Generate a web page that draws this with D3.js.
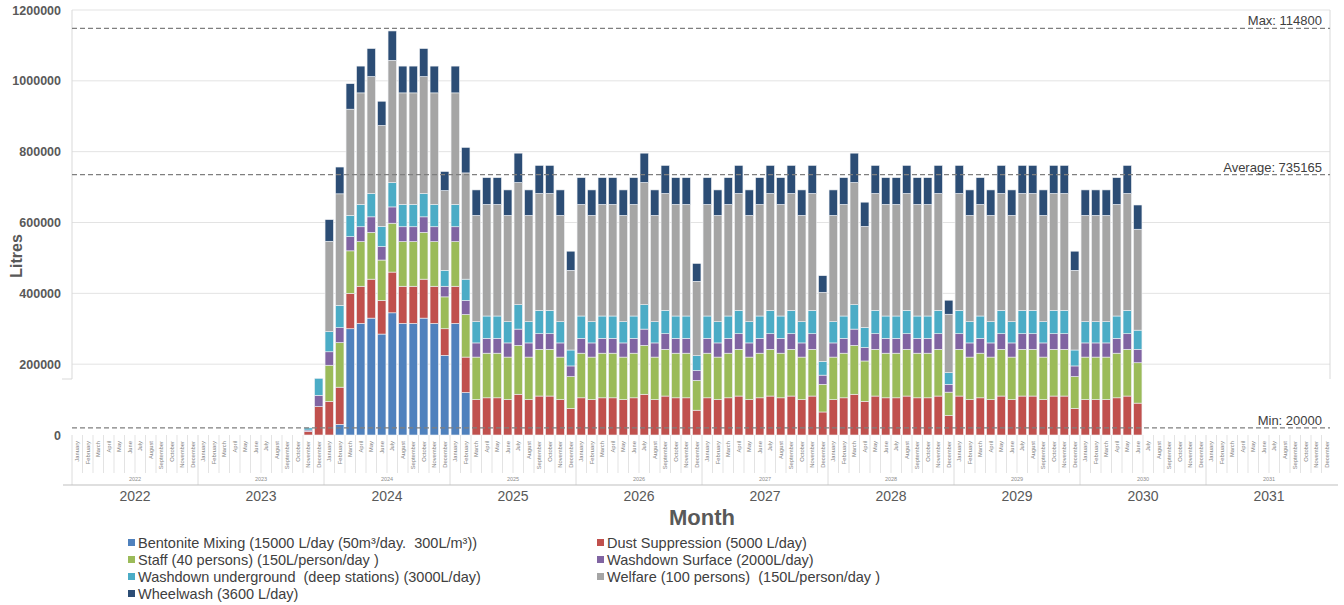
<!DOCTYPE html>
<html>
<head>
<meta charset="utf-8">
<script src="https://cdn.jsdelivr.net/npm/d3@7"></script>
<style>
  body { margin: 0; background: #fff; }
  svg { font-family: "Liberation Sans", Arial, sans-serif; }
</style>
</head>
<body>
<div id="chart"></div>
<script>
const monthNames = ["January", "February", "March", "April", "May", "June", "July",
  "August", "September", "October", "November", "December"];
const years = [2022, 2023, 2024, 2025, 2026, 2027, 2028, 2029, 2030, 2031];
const yTicks = [0, 200000, 400000, 600000, 800000, 1000000, 1200000];

// series values run monthly from November 2023 to June 2030
const dataStartYear = 2023, dataStartMonth = 10;

const seriesNames = [
  "Bentonite Mixing (15000 L/day (50m³/day.  300L/m³))",
  "Dust Suppression (5000 L/day)",
  "Staff (40 persons) (150L/person/day )",
  "Washdown Surface (2000L/day)",
  "Washdown underground  (deep stations) (3000L/day)",
  "Welfare (100 persons)  (150L/person/day )",
  "Wheelwash (3600 L/day)"
];
const seriesColors = ["#4F81BD", "#C0504D", "#9BBB59", "#8064A2", "#4BACC6", "#A5A5A5", "#2C4D75"];

const bentonite = [
  0, 0,
  0, 30000, 300000, 315000, 330000, 285000, 345000, 315000, 315000, 330000, 315000, 225000,
  315000, 120000, 0, 0, 0, 0, 0, 0, 0, 0, 0, 0,
  0, 0, 0, 0, 0, 0, 0, 0, 0, 0, 0, 0,
  0, 0, 0, 0, 0, 0, 0, 0, 0, 0, 0, 0,
  0, 0, 0, 0, 0, 0, 0, 0, 0, 0, 0, 0,
  0, 0, 0, 0, 0, 0, 0, 0, 0, 0, 0, 0,
  0, 0, 0, 0, 0, 0
];
const dust = [
  10000, 80000,
  95000, 105000, 100000, 105000, 110000, 95000, 115000, 105000, 105000, 110000, 105000, 75000,
  105000, 100000, 100000, 105000, 105000, 100000, 115000, 100000, 110000, 110000, 100000, 75000,
  105000, 100000, 105000, 105000, 100000, 105000, 115000, 100000, 110000, 105000, 105000, 70000,
  105000, 100000, 105000, 110000, 100000, 105000, 110000, 105000, 110000, 100000, 110000, 65000,
  100000, 105000, 115000, 95000, 110000, 105000, 105000, 110000, 105000, 105000, 110000, 55000,
  110000, 100000, 105000, 100000, 110000, 100000, 110000, 110000, 100000, 110000, 110000, 75000,
  100000, 100000, 100000, 105000, 110000, 90000
];
const staff = [
  0, 0,
  102000, 126000, 120000, 126000, 132000, 114000, 138000, 126000, 126000, 132000, 126000, 90000,
  126000, 120000, 120000, 126000, 126000, 120000, 138000, 120000, 132000, 132000, 120000, 90000,
  126000, 120000, 126000, 126000, 120000, 126000, 138000, 120000, 132000, 126000, 126000, 84000,
  126000, 120000, 126000, 132000, 120000, 126000, 132000, 126000, 132000, 120000, 132000, 78000,
  120000, 126000, 138000, 114000, 132000, 126000, 126000, 132000, 126000, 126000, 132000, 66000,
  132000, 120000, 126000, 120000, 132000, 120000, 132000, 132000, 120000, 132000, 132000, 90000,
  120000, 120000, 120000, 126000, 132000, 114000
];
const washSurface = [
  4000, 32000,
  38000, 42000, 40000, 42000, 44000, 38000, 46000, 42000, 42000, 44000, 42000, 30000,
  42000, 40000, 40000, 42000, 42000, 40000, 46000, 40000, 44000, 44000, 40000, 30000,
  42000, 40000, 42000, 42000, 40000, 42000, 46000, 40000, 44000, 42000, 42000, 28000,
  42000, 40000, 42000, 44000, 40000, 42000, 44000, 42000, 44000, 40000, 44000, 26000,
  40000, 42000, 46000, 38000, 44000, 42000, 42000, 44000, 42000, 42000, 44000, 22000,
  44000, 40000, 42000, 40000, 44000, 40000, 44000, 44000, 40000, 44000, 44000, 30000,
  40000, 40000, 40000, 42000, 44000, 38000
];
const washUnderground = [
  6000, 48000,
  57000, 63000, 60000, 63000, 66000, 57000, 69000, 63000, 63000, 66000, 63000, 45000,
  63000, 60000, 60000, 63000, 63000, 60000, 69000, 60000, 66000, 66000, 60000, 45000,
  63000, 60000, 63000, 63000, 60000, 63000, 69000, 60000, 66000, 63000, 63000, 42000,
  63000, 60000, 63000, 66000, 60000, 63000, 66000, 63000, 66000, 60000, 66000, 39000,
  60000, 63000, 69000, 57000, 66000, 63000, 63000, 66000, 63000, 63000, 66000, 33000,
  66000, 60000, 63000, 60000, 66000, 60000, 66000, 66000, 60000, 66000, 66000, 45000,
  60000, 60000, 60000, 63000, 66000, 54000
];
const welfare = [
  0, 0,
  255000, 315000, 300000, 315000, 330000, 285000, 345000, 315000, 315000, 330000, 315000, 225000,
  315000, 300000, 300000, 315000, 315000, 300000, 345000, 300000, 330000, 330000, 300000, 225000,
  315000, 300000, 315000, 315000, 300000, 315000, 345000, 300000, 330000, 315000, 315000, 210000,
  315000, 300000, 315000, 330000, 300000, 315000, 330000, 315000, 330000, 300000, 330000, 195000,
  300000, 315000, 345000, 285000, 330000, 315000, 315000, 330000, 315000, 315000, 330000, 165000,
  330000, 300000, 315000, 300000, 330000, 300000, 330000, 330000, 300000, 330000, 330000, 225000,
  300000, 300000, 300000, 315000, 330000, 285000
];
const wheelwash = [
  0, 0,
  61200, 75600, 72000, 75600, 79200, 68400, 82800, 75600, 75600, 79200, 75600, 54000,
  75600, 72000, 72000, 75600, 75600, 72000, 82800, 72000, 79200, 79200, 72000, 54000,
  75600, 72000, 75600, 75600, 72000, 75600, 82800, 72000, 79200, 75600, 75600, 50400,
  75600, 72000, 75600, 79200, 72000, 75600, 79200, 75600, 79200, 72000, 79200, 46800,
  72000, 75600, 82800, 68400, 79200, 75600, 75600, 79200, 75600, 75600, 79200, 39600,
  79200, 72000, 75600, 72000, 79200, 72000, 79200, 79200, 72000, 79200, 79200, 54000,
  72000, 72000, 72000, 75600, 79200, 68400
];

const refLabels = ["Max: 114800", "Average: 735165", "Min: 20000"];
const refValues = [1148000, 735165, 20000];

const seriesValues = [bentonite, dust, staff, washSurface, washUnderground, welfare, wheelwash];

// one row per month, Jan 2022 .. Dec 2031
const rows = [];
years.forEach(yr => monthNames.forEach((m, mi) => {
  const row = { key: yr + "-" + mi, year: yr, month: m };
  const idx = (yr - dataStartYear) * 12 + (mi - dataStartMonth);
  seriesNames.forEach((s, si) => {
    const v = seriesValues[si][idx];
    row[s] = (idx >= 0 && v !== undefined) ? v : 0;
  });
  rows.push(row);
}));

const width = 1344, height = 605;
const margin = { top: 10, right: 12, bottom: 170, left: 72 };
const plotRight = 1330;
const frameBottom = 379; // Excel's axis frame stops short of the baseline

const svg = d3.select("#chart").append("svg")
  .attr("width", width).attr("height", height);

const x = d3.scaleBand()
  .domain(rows.map(d => d.key))
  .range([margin.left, width - margin.right])
  .paddingInner(0.2)
  .paddingOuter(0.1);

const y = d3.scaleLinear()
  .domain([0, 1200000])
  .range([height - margin.bottom, margin.top]);

const base = y(0);

// gridlines
svg.append("g")
  .selectAll("line")
  .data(yTicks.filter(t => t > 0))
  .join("line")
  .attr("x1", margin.left).attr("x2", plotRight)
  .attr("y1", d => y(d)).attr("y2", d => y(d))
  .attr("stroke", "#e3e3e3").attr("stroke-width", 1);

// axis line and right border
svg.append("line")
  .attr("x1", margin.left).attr("x2", margin.left)
  .attr("y1", y(1200000)).attr("y2", frameBottom)
  .attr("stroke", "#d9d9d9");
svg.append("line")
  .attr("x1", margin.left - 10).attr("x2", margin.left)
  .attr("y1", frameBottom).attr("y2", frameBottom)
  .attr("stroke", "#d9d9d9");
svg.append("line")
  .attr("x1", plotRight).attr("x2", plotRight)
  .attr("y1", y(1200000)).attr("y2", frameBottom)
  .attr("stroke", "#d9d9d9");

// y axis labels
const yAxis = svg.append("g")
  .attr("transform", `translate(${margin.left},0)`)
  .call(d3.axisLeft(y).tickValues(yTicks).tickSize(0).tickPadding(11).tickFormat(d3.format("d")));
yAxis.select(".domain").remove();
yAxis.selectAll("text")
  .attr("fill", "#595959")
  .style("font-size", "12.5px")
  .style("font-weight", "bold");

svg.append("text")
  .attr("transform", "translate(22,256) rotate(-90)")
  .attr("text-anchor", "middle")
  .attr("fill", "#595959")
  .style("font-size", "16px")
  .style("font-weight", "bold")
  .text("Litres");

// stacked bars
const stack = d3.stack().keys(seriesNames)(rows);
const color = d3.scaleOrdinal().domain(seriesNames).range(seriesColors);

svg.append("g")
  .selectAll("g")
  .data(stack)
  .join("g")
  .attr("fill", d => color(d.key))
  .selectAll("rect")
  .data(d => d.filter(p => p[1] > p[0]))
  .join("rect")
  .attr("x", d => x(d.data.key))
  .attr("width", x.bandwidth())
  .attr("y", d => y(d[1]))
  .attr("height", d => y(d[0]) - y(d[1]))
  .attr("stroke", "#eef0f3")
  .attr("stroke-width", 0.6);

// reference lines
const refs = svg.append("g");
refValues.forEach((v, i) => {
  refs.append("line")
    .attr("x1", margin.left).attr("x2", plotRight)
    .attr("y1", y(v)).attr("y2", y(v))
    .attr("stroke", "#7f7f7f")
    .attr("stroke-width", 1.3)
    .attr("stroke-dasharray", "5,3");
  refs.append("text")
    .attr("x", 1322).attr("y", y(v) - 3)
    .attr("text-anchor", "end")
    .attr("fill", "#404040")
    .style("font-size", "13px")
    .text(refLabels[i]);
});

// multi-level category axis
const step = x.step();
const edge = k => x(k) - step * x.paddingInner() / 2;
const xAxis = svg.append("g");

xAxis.selectAll(".msep")
  .data(rows.filter(d => d.month !== "January"))
  .join("line")
  .attr("x1", d => edge(d.key)).attr("x2", d => edge(d.key))
  .attr("y1", base).attr("y2", base + 38)
  .attr("stroke", "#e3e3e3");

xAxis.selectAll(".ysep")
  .data(years)
  .join("line")
  .attr("x1", d => edge(d + "-0")).attr("x2", d => edge(d + "-0"))
  .attr("y1", base).attr("y2", base + 50)
  .attr("stroke", "#dcdcdc");

xAxis.append("line")
  .attr("x1", 63).attr("x2", 1338)
  .attr("y1", base + 50).attr("y2", base + 50)
  .attr("stroke", "#bfbfbf").attr("stroke-width", 1.2);

xAxis.selectAll(".mlab")
  .data(rows)
  .join("text")
  .attr("transform", d => `translate(${x(d.key) + x.bandwidth() / 2},${base + 6}) rotate(-90)`)
  .attr("dy", "0.35em")
  .attr("text-anchor", "end")
  .attr("fill", "#7f7f7f")
  .style("font-size", "5.8px")
  .text(d => d.month);

const yearMid = yr => (edge(yr + "-0") + edge(yr + "-11") + step) / 2;

xAxis.selectAll(".ysmall")
  .data(years)
  .join("text")
  .attr("x", yearMid).attr("y", base + 46)
  .attr("text-anchor", "middle")
  .attr("fill", "#8c8c8c")
  .style("font-size", "5.5px")
  .text(d => d);

xAxis.selectAll(".ybig")
  .data(years)
  .join("text")
  .attr("x", yearMid).attr("y", base + 66)
  .attr("text-anchor", "middle")
  .attr("fill", "#595959")
  .style("font-size", "14px")
  .text(d => d);

svg.append("text")
  .attr("x", (margin.left + width - margin.right) / 2)
  .attr("y", 525)
  .attr("text-anchor", "middle")
  .attr("fill", "#595959")
  .style("font-size", "22px")
  .style("font-weight", "bold")
  .text("Month");

// legend
const legend = svg.append("g")
  .selectAll("g")
  .data(seriesNames)
  .join("g")
  .attr("transform", (d, i) => `translate(${i % 2 ? 597 : 128},${543 + Math.floor(i / 2) * 17})`);

legend.append("rect")
  .attr("x", 0).attr("y", -4)
  .attr("width", 7).attr("height", 7)
  .attr("fill", d => color(d));

legend.append("text")
  .attr("x", 10).attr("y", 0)
  .attr("dy", "0.35em")
  .attr("fill", "#404040")
  .style("font-size", "14.5px")
  .style("white-space", "pre")
  .text(d => d);
</script>
</body>
</html>
